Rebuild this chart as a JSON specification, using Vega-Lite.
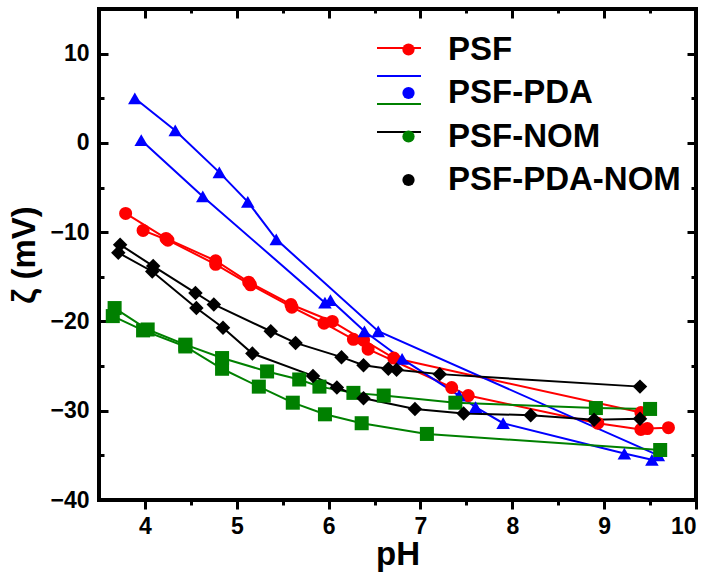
{
  "$schema": "https://vega.github.io/schema/vega-lite/v6.json",
  "width": 597,
  "height": 491,
  "autosize": {"type": "none"},
  "padding": {"left": 99, "top": 9, "right": 17, "bottom": 78},
  "background": "white",
  "config": {
    "view": {"stroke": "black", "strokeWidth": 4},
    "font": "Liberation Sans",
    "axis": {"grid": false, "domain": false, "labelFont": "Liberation Sans", "labelFontWeight": "bold", "labelFontSize": 23, "labelColor": "black", "tickColor": "black", "tickWidth": 3, "titleFont": "Liberation Sans", "titleFontWeight": "bold", "titleFontSize": 33, "titleColor": "black"},
    "legend": {"orient": "none", "title": null, "padding": 0,
               "labelFont": "Liberation Sans", "labelFontWeight": "bold", "labelColor": "black", "labelLimit": 400}
  },
  "data": {"values": [
    {"series": "PSF", "run": 1, "pH": 3.79, "zeta": -7.9},
    {"series": "PSF", "run": 1, "pH": 4.23, "zeta": -10.7},
    {"series": "PSF", "run": 1, "pH": 4.77, "zeta": -13.2},
    {"series": "PSF", "run": 1, "pH": 5.13, "zeta": -15.6},
    {"series": "PSF", "run": 1, "pH": 5.59, "zeta": -18.1},
    {"series": "PSF", "run": 1, "pH": 6.04, "zeta": -20.0},
    {"series": "PSF", "run": 1, "pH": 6.38, "zeta": -22.1},
    {"series": "PSF", "run": 1, "pH": 6.71, "zeta": -24.1},
    {"series": "PSF", "run": 1, "pH": 9.40, "zeta": -30.2},
    {"series": "PSF", "run": 2, "pH": 3.98, "zeta": -9.8},
    {"series": "PSF", "run": 2, "pH": 4.25, "zeta": -10.9},
    {"series": "PSF", "run": 2, "pH": 4.77, "zeta": -13.6},
    {"series": "PSF", "run": 2, "pH": 5.15, "zeta": -15.9},
    {"series": "PSF", "run": 2, "pH": 5.60, "zeta": -18.4},
    {"series": "PSF", "run": 2, "pH": 5.95, "zeta": -20.2},
    {"series": "PSF", "run": 2, "pH": 6.27, "zeta": -22.0},
    {"series": "PSF", "run": 2, "pH": 6.43, "zeta": -23.1},
    {"series": "PSF", "run": 2, "pH": 7.34, "zeta": -27.4},
    {"series": "PSF", "run": 2, "pH": 7.52, "zeta": -28.3},
    {"series": "PSF", "run": 2, "pH": 8.93, "zeta": -31.4},
    {"series": "PSF", "run": 2, "pH": 9.40, "zeta": -32.1},
    {"series": "PSF", "run": 2, "pH": 9.47, "zeta": -32.0},
    {"series": "PSF", "run": 2, "pH": 9.70, "zeta": -31.9},
    {"series": "PSF-PDA", "run": 1, "pH": 3.89, "zeta": 5.0},
    {"series": "PSF-PDA", "run": 1, "pH": 4.33, "zeta": 1.4},
    {"series": "PSF-PDA", "run": 1, "pH": 4.81, "zeta": -3.3},
    {"series": "PSF-PDA", "run": 1, "pH": 5.12, "zeta": -6.6},
    {"series": "PSF-PDA", "run": 1, "pH": 5.43, "zeta": -10.8},
    {"series": "PSF-PDA", "run": 1, "pH": 6.54, "zeta": -21.1},
    {"series": "PSF-PDA", "run": 1, "pH": 9.59, "zeta": -35.0},
    {"series": "PSF-PDA", "run": 2, "pH": 3.96, "zeta": 0.3},
    {"series": "PSF-PDA", "run": 2, "pH": 4.63, "zeta": -6.0},
    {"series": "PSF-PDA", "run": 2, "pH": 5.96, "zeta": -17.9},
    {"series": "PSF-PDA", "run": 2, "pH": 6.02, "zeta": -17.6},
    {"series": "PSF-PDA", "run": 2, "pH": 6.39, "zeta": -21.1},
    {"series": "PSF-PDA", "run": 2, "pH": 6.80, "zeta": -24.2},
    {"series": "PSF-PDA", "run": 2, "pH": 7.42, "zeta": -28.3},
    {"series": "PSF-PDA", "run": 2, "pH": 7.60, "zeta": -29.6},
    {"series": "PSF-PDA", "run": 2, "pH": 7.90, "zeta": -31.4},
    {"series": "PSF-PDA", "run": 2, "pH": 9.22, "zeta": -34.8},
    {"series": "PSF-PDA", "run": 2, "pH": 9.52, "zeta": -35.5},
    {"series": "PSF-NOM", "run": 1, "pH": 3.67, "zeta": -18.5},
    {"series": "PSF-NOM", "run": 1, "pH": 4.03, "zeta": -20.9},
    {"series": "PSF-NOM", "run": 1, "pH": 4.44, "zeta": -22.6},
    {"series": "PSF-NOM", "run": 1, "pH": 4.84, "zeta": -24.1},
    {"series": "PSF-NOM", "run": 1, "pH": 5.33, "zeta": -25.6},
    {"series": "PSF-NOM", "run": 1, "pH": 5.68, "zeta": -26.5},
    {"series": "PSF-NOM", "run": 1, "pH": 5.90, "zeta": -27.3},
    {"series": "PSF-NOM", "run": 1, "pH": 6.27, "zeta": -28.0},
    {"series": "PSF-NOM", "run": 1, "pH": 6.60, "zeta": -28.3},
    {"series": "PSF-NOM", "run": 1, "pH": 7.38, "zeta": -29.1},
    {"series": "PSF-NOM", "run": 1, "pH": 8.91, "zeta": -29.7},
    {"series": "PSF-NOM", "run": 1, "pH": 9.50, "zeta": -29.8},
    {"series": "PSF-NOM", "run": 2, "pH": 3.65, "zeta": -19.4},
    {"series": "PSF-NOM", "run": 2, "pH": 3.98, "zeta": -21.0},
    {"series": "PSF-NOM", "run": 2, "pH": 4.44, "zeta": -22.8},
    {"series": "PSF-NOM", "run": 2, "pH": 4.84, "zeta": -25.3},
    {"series": "PSF-NOM", "run": 2, "pH": 5.24, "zeta": -27.3},
    {"series": "PSF-NOM", "run": 2, "pH": 5.61, "zeta": -29.1},
    {"series": "PSF-NOM", "run": 2, "pH": 5.96, "zeta": -30.4},
    {"series": "PSF-NOM", "run": 2, "pH": 6.36, "zeta": -31.4},
    {"series": "PSF-NOM", "run": 2, "pH": 7.07, "zeta": -32.6},
    {"series": "PSF-NOM", "run": 2, "pH": 9.61, "zeta": -34.4},
    {"series": "PSF-PDA-NOM", "run": 1, "pH": 3.73, "zeta": -11.4},
    {"series": "PSF-PDA-NOM", "run": 1, "pH": 4.09, "zeta": -13.8},
    {"series": "PSF-PDA-NOM", "run": 1, "pH": 4.55, "zeta": -16.8},
    {"series": "PSF-PDA-NOM", "run": 1, "pH": 4.75, "zeta": -18.1},
    {"series": "PSF-PDA-NOM", "run": 1, "pH": 5.37, "zeta": -21.1},
    {"series": "PSF-PDA-NOM", "run": 1, "pH": 5.64, "zeta": -22.4},
    {"series": "PSF-PDA-NOM", "run": 1, "pH": 6.14, "zeta": -24.0},
    {"series": "PSF-PDA-NOM", "run": 1, "pH": 6.38, "zeta": -24.9},
    {"series": "PSF-PDA-NOM", "run": 1, "pH": 6.65, "zeta": -25.3},
    {"series": "PSF-PDA-NOM", "run": 1, "pH": 6.74, "zeta": -25.4},
    {"series": "PSF-PDA-NOM", "run": 1, "pH": 7.21, "zeta": -25.9},
    {"series": "PSF-PDA-NOM", "run": 1, "pH": 9.39, "zeta": -27.3},
    {"series": "PSF-PDA-NOM", "run": 2, "pH": 3.71, "zeta": -12.3},
    {"series": "PSF-PDA-NOM", "run": 2, "pH": 4.08, "zeta": -14.4},
    {"series": "PSF-PDA-NOM", "run": 2, "pH": 4.56, "zeta": -18.5},
    {"series": "PSF-PDA-NOM", "run": 2, "pH": 4.85, "zeta": -20.7},
    {"series": "PSF-PDA-NOM", "run": 2, "pH": 5.17, "zeta": -23.6},
    {"series": "PSF-PDA-NOM", "run": 2, "pH": 5.83, "zeta": -26.1},
    {"series": "PSF-PDA-NOM", "run": 2, "pH": 6.09, "zeta": -27.4},
    {"series": "PSF-PDA-NOM", "run": 2, "pH": 6.38, "zeta": -28.6},
    {"series": "PSF-PDA-NOM", "run": 2, "pH": 6.94, "zeta": -29.8},
    {"series": "PSF-PDA-NOM", "run": 2, "pH": 7.47, "zeta": -30.3},
    {"series": "PSF-PDA-NOM", "run": 2, "pH": 8.20, "zeta": -30.5},
    {"series": "PSF-PDA-NOM", "run": 2, "pH": 8.89, "zeta": -31.0},
    {"series": "PSF-PDA-NOM", "run": 2, "pH": 9.39, "zeta": -30.9}
  ]},
  "resolve": {"axis": {"x": "independent", "y": "independent"}, "legend": {"color": "independent"}},
  "layer": [
    {
      "mark": {"type": "line", "strokeWidth": 2},
      "encoding": {
        "x": {"field": "pH", "type": "quantitative", "scale": {"domain": [3.5, 10], "nice": false, "zero": false},
              "axis": {"orient": "bottom", "values": [4, 5, 6, 7, 8, 9, 10], "tickSize": 9, "labelPadding": 6, "title": "pH", "titlePadding": 0}},
        "y": {"field": "zeta", "type": "quantitative", "scale": {"domain": [-40, 15], "nice": false, "zero": false},
              "axis": {"orient": "left", "values": [-40, -30, -20, -10, 0, 10], "ticks": false, "labelPadding": 10, "title": "ζ (mV)", "titlePadding": 8}},
        "color": {"field": "series", "type": "nominal",
                  "scale": {"domain": ["PSF", "PSF-PDA", "PSF-NOM", "PSF-PDA-NOM"], "range": ["#ff0000", "#0000ff", "#008000", "#000000"]},
                  "legend": {"legendX": 277, "legendY": 16, "symbolType": "stroke", "symbolSize": 1936, "symbolStrokeWidth": 2,
                             "labelFontSize": 10, "labelOpacity": 0, "rowPadding": 0}},
        "detail": {"field": "run", "type": "nominal"}
      }
    },
    {
      "mark": {"type": "point", "filled": true, "opacity": 1},
      "encoding": {
        "x": {"field": "pH", "type": "quantitative", "axis": {"orient": "bottom", "values": [4.5, 5.5, 6.5, 7.5, 8.5, 9.5], "tickSize": 5, "labels": false, "title": null}},
        "y": {"field": "zeta", "type": "quantitative", "axis": {"orient": "left", "values": [-30, -20, -10, 0, 10], "tickSize": -9, "labels": false, "title": null}},
        "color": {"field": "series", "type": "nominal",
                  "legend": {"legendX": 293, "legendY": 24, "symbolSize": 150, "labelFontSize": 33, "labelOffset": 23, "rowPadding": 9.5}},
        "shape": {"field": "series", "type": "nominal", "legend": null,
                  "scale": {"domain": ["PSF", "PSF-PDA", "PSF-NOM", "PSF-PDA-NOM"], "range": ["circle", "triangle-up", "square", "diamond"]}},
        "size": {"field": "series", "type": "nominal", "legend": null,
                 "scale": {"domain": ["PSF", "PSF-PDA", "PSF-NOM", "PSF-PDA-NOM"], "range": [170, 210, 115, 220]}},
        "detail": {"field": "run", "type": "nominal"}
      }
    },
    {
      "mark": {"type": "point", "opacity": 0},
      "encoding": {
        "x": {"field": "pH", "type": "quantitative", "axis": {"orient": "top", "values": [4, 5, 6, 7, 8, 9], "tickSize": -9, "labels": false, "title": null}},
        "y": {"field": "zeta", "type": "quantitative", "axis": {"orient": "left", "values": [-35, -25, -15, -5, 5], "tickSize": -5, "labels": false, "title": null}}
      }
    },
    {
      "mark": {"type": "point", "opacity": 0},
      "encoding": {
        "x": {"field": "pH", "type": "quantitative", "axis": {"orient": "top", "values": [4.5, 5.5, 6.5, 7.5, 8.5, 9.5], "tickSize": -4, "labels": false, "title": null}},
        "y": {"field": "zeta", "type": "quantitative", "axis": {"orient": "right", "values": [-30, -20, -10, 0, 10], "tickSize": -9, "labels": false, "title": null}}
      }
    },
    {
      "mark": {"type": "point", "opacity": 0},
      "encoding": {
        "x": {"field": "pH", "type": "quantitative", "axis": null},
        "y": {"field": "zeta", "type": "quantitative", "axis": {"orient": "right", "values": [-35, -25, -15, -5, 5], "tickSize": -5, "labels": false, "title": null}}
      }
    }
  ]
}
